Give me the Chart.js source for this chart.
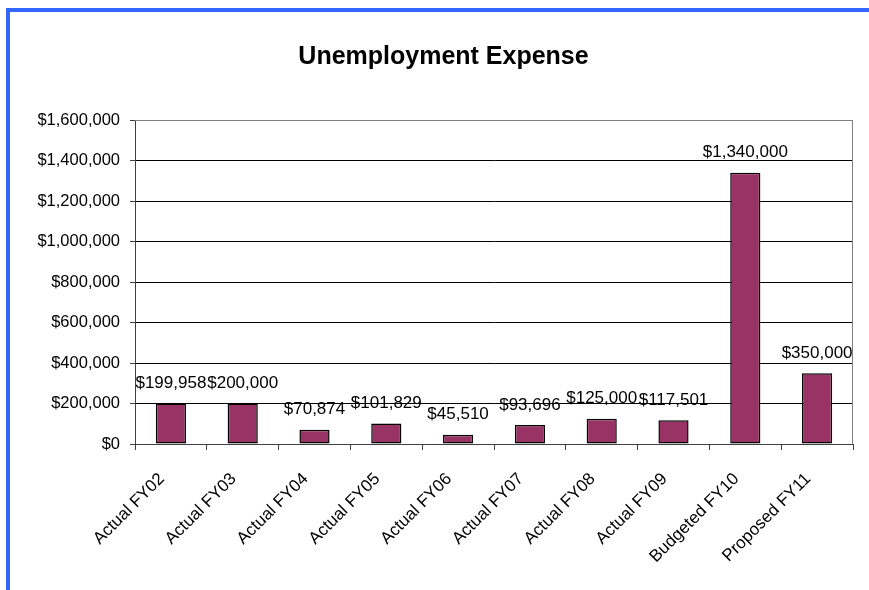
<!DOCTYPE html>
<html>
<head>
<meta charset="utf-8">
<title>Unemployment Expense</title>
<script src="https://cdn.jsdelivr.net/npm/chart.js@4.4.1/dist/chart.umd.min.js"></script>
<style>
  html, body { margin: 0; padding: 0; background: #fff; }
  #wrap { position: relative; width: 869px; height: 590px; overflow: hidden; }
  #topRule { position: absolute; left: 6px; top: 8px; width: 863px; height: 4px; background: #3366ff; }
  #leftRule { position: absolute; left: 6px; top: 8px; width: 4px; height: 582px; background: #3366ff; }
  canvas { position: absolute; left: 0; top: 0; }
</style>
</head>
<body>
<div id="wrap">
  <canvas id="expenseChart" width="869" height="590"></canvas>
  <div id="topRule"></div>
  <div id="leftRule"></div>
</div>
<script>
// chart data
const categories = ['Actual FY02', 'Actual FY03', 'Actual FY04', 'Actual FY05', 'Actual FY06',
                    'Actual FY07', 'Actual FY08', 'Actual FY09', 'Budgeted FY10', 'Proposed FY11'];
const expense = [199958, 200000, 70874, 101829, 45510, 93696, 125000, 117501, 1340000, 350000];
const yMax = 1600000;
const yStep = 200000;

const FONT = "'Liberation Sans', Arial, sans-serif";
const money = v => '$' + Number(v).toLocaleString('en-US');

// value labels above each bar
const barLabels = {
  id: 'barLabels',
  afterDatasetsDraw(chart){
    const c = chart.ctx;
    const meta = chart.getDatasetMeta(0);
    c.save();
    c.font = '17px ' + FONT;
    c.fillStyle = '#000';
    c.textAlign = 'center';
    c.textBaseline = 'middle';
    meta.data.forEach((bar, i) => {
      c.fillText(money(expense[i]), bar.x, bar.y - 20);
    });
    c.restore();
  }
};

// gray frame on top/right of plot area
const plotFrame = {
  id: 'plotFrame',
  beforeDatasetsDraw(chart){
    const a = chart.chartArea, c = chart.ctx;
    c.save();
    c.strokeStyle = '#808080';
    c.lineWidth = 1;
    c.beginPath();
    c.moveTo(a.left, a.top + 0.5);
    c.lineTo(a.right - 0.5, a.top + 0.5);
    c.lineTo(a.right - 0.5, a.bottom);
    c.stroke();
    c.restore();
  }
};

const ctx = document.getElementById('expenseChart').getContext('2d');
new Chart(ctx, {
  type: 'bar',
  data: {
    labels: categories,
    datasets: [{
      label: 'Unemployment Expense',
      data: expense,
      backgroundColor: '#993366',
      borderColor: '#000',
      borderWidth: 1.5,
      borderSkipped: false,
      barPercentage: 0.42,
      categoryPercentage: 1
    }]
  },
  options: {
    responsive: false,
    animation: false,
    layout: { padding: { left: 34, right: 16, top: 0, bottom: 0 } },
    plugins: {
      legend: { display: false },
      tooltip: { enabled: false },
      title: {
        display: true,
        text: 'Unemployment Expense',
        color: '#000',
        font: { family: FONT, size: 25, weight: 'bold' },
        padding: { top: 42, bottom: 48 }
      }
    },
    scales: {
      x: {
        offset: true,
        afterFit(s){ s.height = 146; },
        grid: { offset: true, drawOnChartArea: false, drawTicks: true, tickLength: 6, tickColor: '#404040' },
        border: { color: '#404040', width: 1 },
        ticks: {
          color: '#000',
          font: { family: FONT, size: 17 },
          minRotation: 45,
          maxRotation: 45,
          padding: 19,
          labelOffset: -9,
          autoSkip: false
        }
      },
      y: {
        min: 0,
        max: yMax,
        afterFit(s){ s.width = 101; },
        grid: {
          color: c => (c.tick && c.tick.value === yMax) ? '#808080' : '#000',
          tickColor: '#404040',
          tickLength: 5
        },
        border: { color: '#404040', width: 1 },
        ticks: {
          stepSize: yStep,
          color: '#000',
          padding: 10,
          font: { family: FONT, size: 16.5 },
          callback: v => money(v)
        }
      }
    }
  },
  plugins: [plotFrame, barLabels]
});
</script>
</body>
</html>
